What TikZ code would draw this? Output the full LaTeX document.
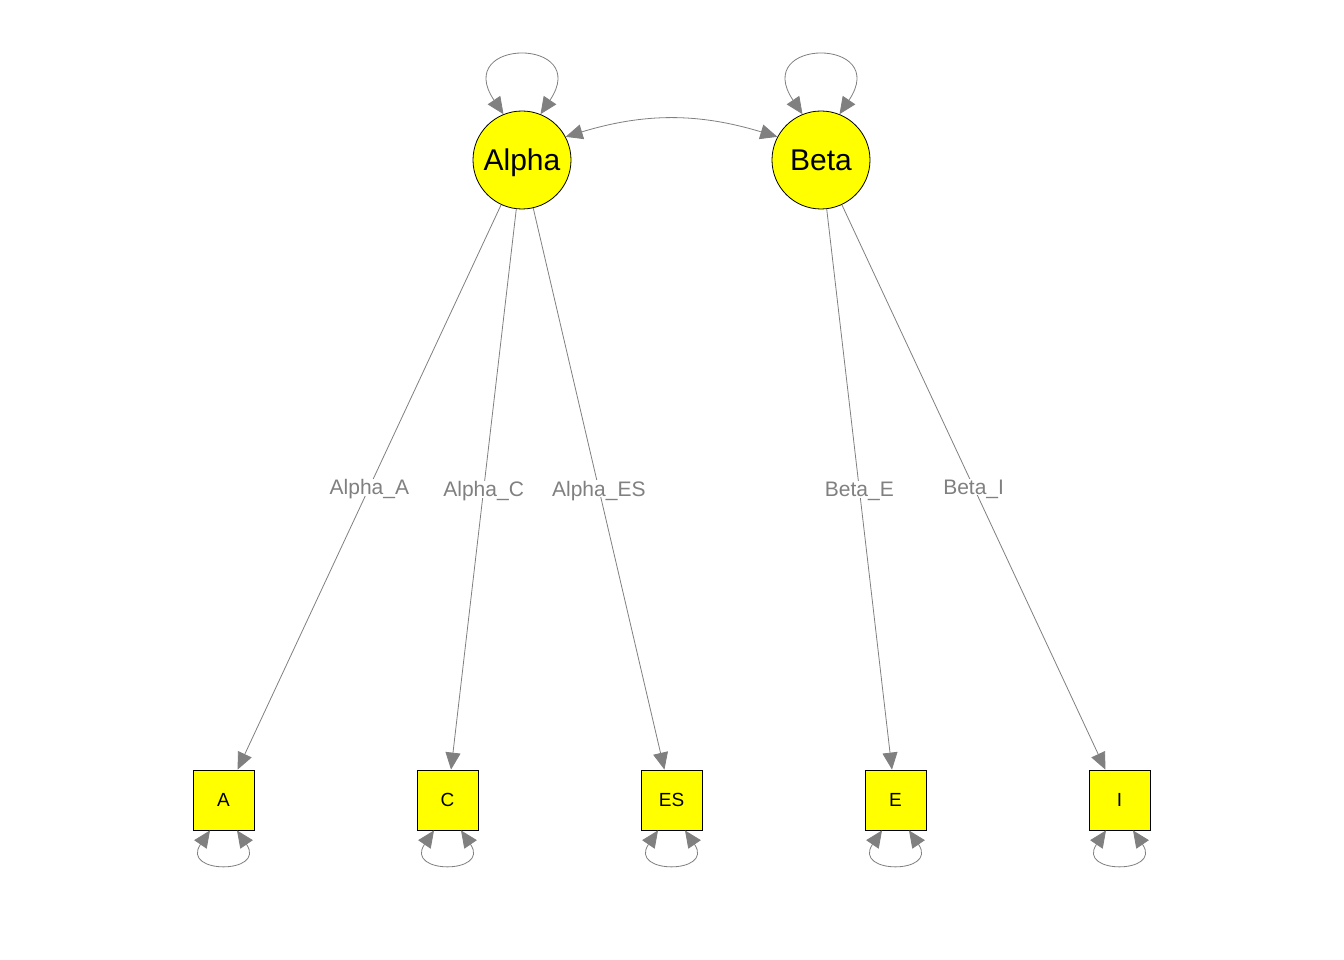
\documentclass[tikz,border=0pt]{standalone}
\usepackage{fontspec}
\setmainfont{Liberation Sans}
\usetikzlibrary{arrows.meta}
\definecolor{edgegray}{RGB}{128,128,128}
\definecolor{nodeyellow}{RGB}{255,255,0}
\begin{document}
\begin{tikzpicture}[x=1pt,y=-1pt,
  latent/.style={circle,draw=black,line width=0.8pt,fill=nodeyellow,minimum size=98pt,inner sep=0pt,text depth=0pt,font=\fontsize{30}{34}\selectfont},
  manifest/.style={rectangle,draw=black,line width=0.8pt,fill=nodeyellow,minimum width=61pt,minimum height=60pt,inner sep=0pt,text depth=0pt,font=\fontsize{19}{22}\selectfont},
  arr/.style={draw=edgegray,line width=0.8pt,-{Triangle[length=17pt,width=15pt]}},
  dbl/.style={draw=edgegray,line width=0.8pt,{Triangle[length=17pt,width=15pt]}-{Triangle[length=17pt,width=15pt]}},
  lbl/.style={fill=white,inner sep=1pt,text depth=0pt,text=edgegray,font=\fontsize{21}{24}\selectfont}]
\path[use as bounding box,fill=white] (0,0) rectangle (1344,960);
\node[latent] (Alpha) at (522,160) {Alpha};
\node[latent] (Beta) at (821,160) {Beta};
\node[manifest] (A) at (223.5,800) {A};
\node[manifest] (C) at (447.5,800) {C};
\node[manifest] (ES) at (671.5,800) {ES};
\node[manifest] (E) at (895.5,800) {E};
\node[manifest] (I) at (1119.5,800) {I};
% loadings
\path[arr] (Alpha) -- node[lbl,pos=0.5]{Alpha\_A} (A);
\path[arr] (Alpha) -- node[lbl,pos=0.5]{Alpha\_C} (C);
\path[arr] (Alpha) -- node[lbl,pos=0.5]{Alpha\_ES} (ES);
\path[arr] (Beta) -- node[lbl,pos=0.5]{Beta\_E} (E);
\path[arr] (Beta) -- node[lbl,pos=0.5]{Beta\_I} (I);
% covariance
\path[dbl] (Alpha.28) .. controls +(79,-24) and +(-79,-24) .. (Beta.152);
% latent variances
\path[dbl] (Alpha.112) .. controls +(-52,-77) and +(52,-77) .. (Alpha.68);
\path[dbl] (Beta.112) .. controls +(-52,-77) and +(52,-77) .. (Beta.68);
% residual variances
\foreach \n in {A,C,ES,E,I}{
  \coordinate (\n l) at ([xshift=-13.5pt]\n.south);
  \coordinate (\n r) at ([xshift=13.5pt]\n.south);
  \path[dbl] (\n l) .. controls +(-30,44) and +(30,44) .. (\n r);
}
\end{tikzpicture}
\end{document}
